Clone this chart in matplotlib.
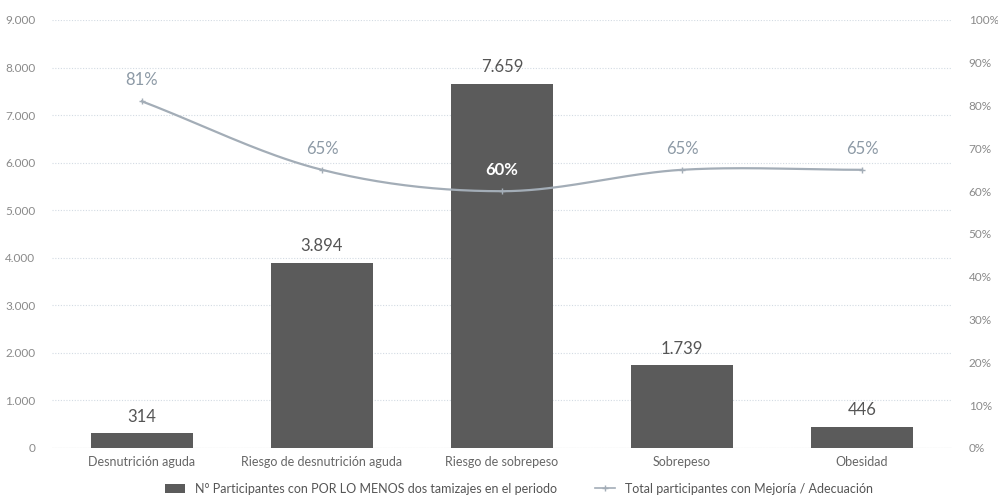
import numpy as np
import matplotlib.pyplot as plt
from matplotlib.ticker import FuncFormatter

plt.rcParams['font.family'] = ['Lato', 'DejaVu Sans']

categories = ['Desnutrición aguda', 'Riesgo de desnutrición aguda', 'Riesgo de sobrepeso',
              'Sobrepeso', 'Obesidad']
participantes = [314, 3894, 7659, 1739, 446]
mejoria_pct = [81, 65, 60, 65, 65]

bar_color = '#5b5b5b'
line_color = '#a3adb7'
pct_text = '#8d9aa6'
tick_color = '#8a8a8a'


def smooth_curve(x, y, n=40):
    # Catmull-Rom curve through the points, like Excel's smoothed line
    x = np.asarray(x, float)
    y = np.asarray(y, float)
    m = np.gradient(y, x)
    xs, ys = [], []
    for i in range(len(x) - 1):
        t = np.linspace(0, 1, n)
        h = x[i + 1] - x[i]
        h00 = 2 * t**3 - 3 * t**2 + 1
        h10 = t**3 - 2 * t**2 + t
        h01 = -2 * t**3 + 3 * t**2
        h11 = t**3 - t**2
        xs.append(x[i] + t * h)
        ys.append(h00 * y[i] + h10 * h * m[i] + h01 * y[i + 1] + h11 * h * m[i + 1])
    return np.concatenate(xs), np.concatenate(ys)


fig = plt.figure(figsize=(9.98, 5), dpi=100)
ax = fig.add_axes([0.052, 0.104, 0.902, 0.856])
ax2 = ax.twinx()

x = np.arange(len(categories))
ax.bar(x, participantes, width=0.57, color=bar_color, zorder=2,
       label='N° Participantes con POR LO MENOS dos tamizajes en el periodo')
for xi, v in zip(x, participantes):
    ax.text(xi, v + 180, f'{v:,}'.replace(',', '.'), ha='center', va='bottom',
            fontsize=12, color='#555555')

ax.set_ylim(0, 9000)
ax.set_xlim(-0.5, len(categories) - 0.5)
ax.set_yticks(np.arange(0, 9001, 1000))
ax.yaxis.set_major_formatter(FuncFormatter(lambda v, p: f'{int(v):,}'.replace(',', '.')))
ax.set_xticks(x)
ax.set_xticklabels(categories)
ax.grid(axis='y', color='#d3dbe3', linestyle=(0, (1, 1.5)), linewidth=0.8, zorder=0)
ax.set_axisbelow(True)

sx, sy = smooth_curve(x, mejoria_pct)
ax2.plot(sx, sy, color=line_color, linewidth=1.6, zorder=3)
ax2.plot(x, mejoria_pct, linestyle='none', marker='+', markersize=4, color=line_color, zorder=3)
ax2.plot([], [], color=line_color, marker='+', markersize=4, linewidth=1.2,
         label='Total participantes con Mejoría / Adecuación')
for xi, v in zip(x, mejoria_pct):
    if v == 60:
        ax2.text(xi, v + 3, f'{v}%', ha='center', va='bottom', fontsize=12,
                 color='white', fontweight='bold')
    else:
        ax2.text(xi, v + 3, f'{v}%', ha='center', va='bottom', fontsize=12, color=pct_text)
ax2.set_ylim(0, 100)
ax2.set_yticks(np.arange(0, 101, 10))
ax2.yaxis.set_major_formatter(FuncFormatter(lambda v, p: f'{int(v)}%'))

for a in (ax, ax2):
    for s in a.spines.values():
        s.set_visible(False)
    a.tick_params(length=0, labelsize=8.5, colors=tick_color)
ax.tick_params(axis='x', labelsize=9, colors='#666666', pad=6)
ax.tick_params(axis='y', pad=12)
ax2.tick_params(axis='y', pad=12)
ax.axhline(0, color='#d9d9d9', linewidth=0.8, zorder=1)

h1, l1 = ax.get_legend_handles_labels()
h2, l2 = ax2.get_legend_handles_labels()
fig.legend(h1 + h2, l1 + l2, loc='lower center', bbox_to_anchor=(0.52, -0.012), ncol=2,
           frameon=False, fontsize=9, labelcolor='#555555', handlelength=1.6,
           handleheight=0.7, columnspacing=3)

fig.savefig('out.png', dpi=100)
